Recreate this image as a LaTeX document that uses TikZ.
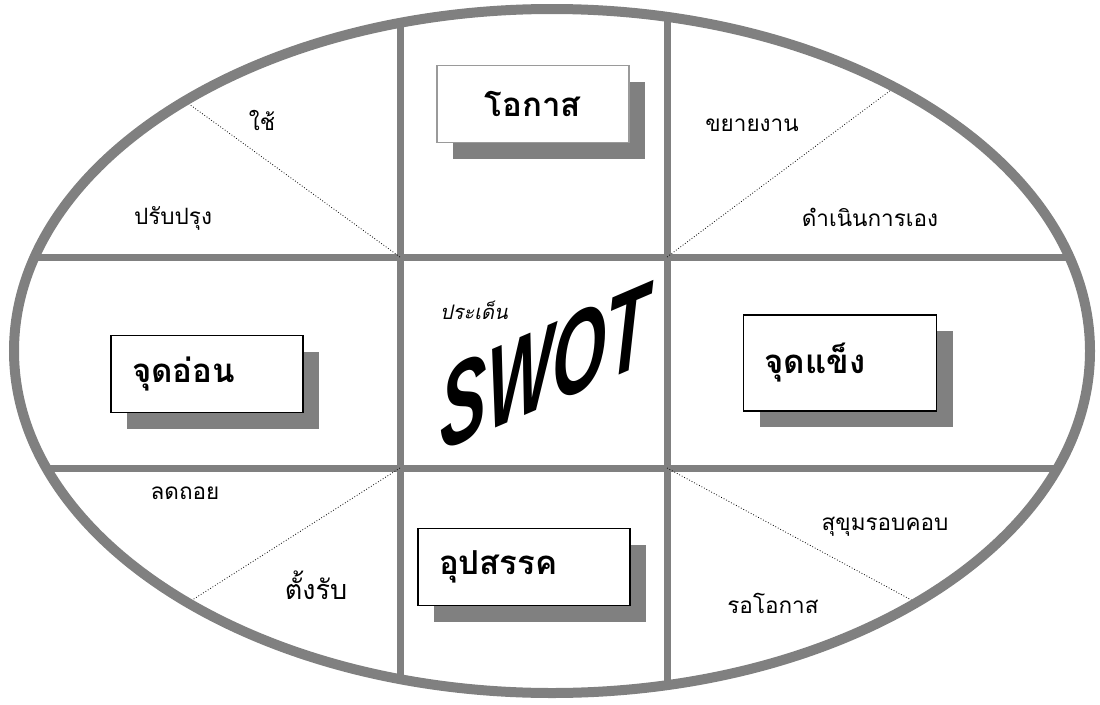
\documentclass[tikz,border=0pt]{standalone}
\usepackage{fontspec}
\newfontfamily\thaifont[Script=Thai]{Loma}
\newfontfamily\swotfont{Liberation Sans}
\usetikzlibrary{shadows}
\definecolor{swotGray}{HTML}{808080}
\definecolor{swotShade}{HTML}{808080}
\definecolor{swotEdge}{HTML}{9A9A9A}

\begin{document}
\begin{tikzpicture}[
    x=1pt, y=-1pt,
    frame/.style={draw=swotGray, line width=10pt},
    grid/.style={draw=swotGray, line width=7pt},
    guide/.style={draw=black, dotted, line width=0.8pt},
    word/.style={font=\thaifont\fontsize{22.5}{26}\selectfont, inner sep=0pt},
    heading/.style={
        draw=black,
        line width=1.2pt,
        fill=white,
        minimum height=77pt,
        inner xsep=21pt,
        align=left,
        font=\thaifont\bfseries\fontsize{33}{38}\selectfont,
        drop shadow={shadow xshift=16pt, shadow yshift=-16pt, fill=swotShade, opacity=1}
    },
    swot/.style={
        transform shape,
        yslant=0.43, xscale=0.6,
        font=\swotfont\bfseries\itshape\fontsize{116}{116}\selectfont,
        inner sep=0pt
    }
]
\useasboundingbox (0,0) rectangle (1100,704);

% grid crossings and ends of the guides
\coordinate (tl) at (400,257);
\coordinate (tr) at (667,257);
\coordinate (bl) at (400,468);
\coordinate (br) at (667,468);
\coordinate (etl) at (189,104);
\coordinate (etr) at (895,87);
\coordinate (ebl) at (189,602);
\coordinate (ebr) at (915,602);

% grid, kept inside the oval
\begin{scope}
    \clip (552,351) ellipse [x radius=534, y radius=338];
    \draw[grid] (0,257) -- (1100,257);
    \draw[grid] (0,468) -- (1100,468);
    \draw[grid] (400,0) -- (400,704);
    \draw[grid] (667,0) -- (667,704);
\end{scope}

% dotted guides
\draw[guide] (tl) -- (etl);
\draw[guide] (tr) -- (etr);
\draw[guide] (bl) -- (ebl);
\draw[guide] (br) -- (ebr);

% outer oval
\draw[frame] (552,351) ellipse [x radius=538, y radius=342];

% headings with shadows
\node[heading, draw=swotEdge, align=center, minimum width=192pt, text width=150pt] (chance) at (533,104) {โอกาส};
\node[heading, minimum width=192pt, text width=150pt] (weak) at (207,374) {จุดอ่อน};
\node[heading, minimum width=193pt, minimum height=96pt, text width=151pt] (strong) at (840,363) {จุดแข็ง};
\node[heading, minimum width=212pt, text width=170pt] (threat) at (524,567) {อุปสรรค};

% centre
\node[word, font=\thaifont\itshape\fontsize{20}{24}\selectfont] (topic) at (474,310) {ประเด็น};
\begin{scope}[shift={(545,367)}]
    \node[swot] (swotword) at (0,0) {SWOT};
\end{scope}

% corner words
\node[word] (use) at (262,120) {ใช้};
\node[word] (improve) at (173,218) {ปรับปรุง};
\node[word] (expand) at (752,125) {ขยายงาน};
\node[word] (selfrun) at (870,217) {ดำเนินการเอง};
\node[word] (retreat) at (185,493) {ลดถอย};
\node[word, font=\thaifont\fontsize{27}{31}\selectfont] (defend) at (316,585) {ตั้งรับ};
\node[word] (careful) at (885,527) {สุขุมรอบคอบ};
\node[word] (wait) at (773,603) {รอโอกาส};

\end{tikzpicture}
\end{document}
